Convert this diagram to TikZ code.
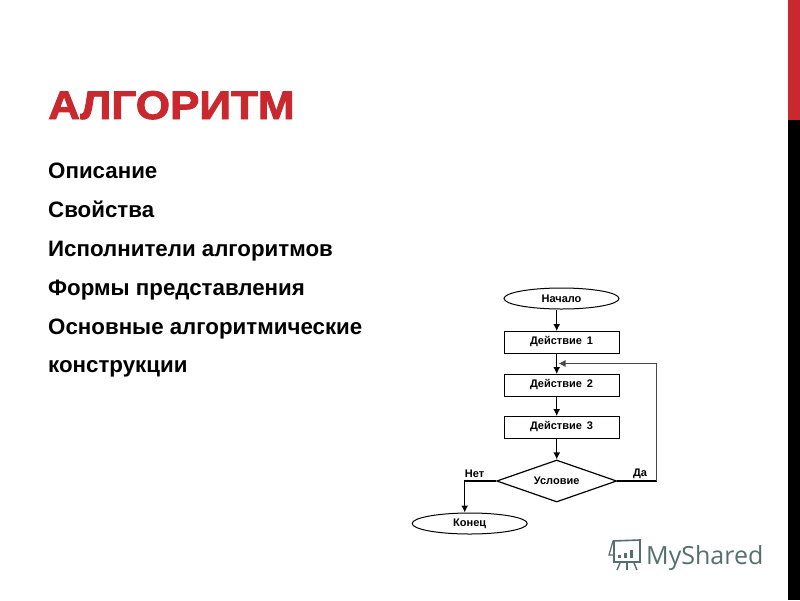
\documentclass[tikz,border=0pt]{standalone}
\usepackage{fontspec}
\usepackage{tikz}
\usetikzlibrary{shapes.geometric,arrows.meta}
\setmainfont{Liberation Sans}
\newfontfamily\markfont{Open Sans}
\newfontfamily\titlefont[FakeBold=2.2]{Liberation Sans Bold}
\definecolor{titlered}{HTML}{C8282E}
\definecolor{markgreen}{HTML}{55706A}
\definecolor{loopgray}{HTML}{4A4A4A}
\tikzset{
  titletext/.style={anchor=base west, inner sep=0pt, font=\titlefont\fontsize{40}{40}\selectfont, text=titlered},
  listitem/.style={anchor=base west, inner sep=0pt, font=\bfseries\fontsize{22.3}{22.3}\selectfont, text=black},
  actbox/.style={draw, line width=1pt, minimum width=115pt, minimum height=22pt, inner sep=0pt, text height=8pt, text depth=4pt, font=\bfseries\fontsize{11}{11}\selectfont},
  termnode/.style={draw, ellipse, line width=1pt, minimum width=115pt, minimum height=21pt, inner sep=0pt, font=\bfseries\fontsize{11}{11}\selectfont},
  condnode/.style={draw, diamond, aspect=2.88, line width=1.2pt, minimum width=120pt, minimum height=42pt, inner sep=0pt, font=\bfseries\fontsize{11}{11}\selectfont},
  flowlabel/.style={inner sep=0pt, font=\bfseries\fontsize{11}{11}\selectfont},
  arrowline/.style={draw, line width=1.2pt, -{Latex[length=7pt,width=7pt]}},
  loopline/.style={draw=loopgray, line width=.8pt, -{Latex[length=7pt,width=7pt]}},
}
\begin{document}
\begin{tikzpicture}[x=1pt,y=-1pt]
\useasboundingbox (0,0) rectangle (800,600);
\fill[white] (0,0) rectangle (800,600);
% bar on the right
\fill[titlered] (788,0) rectangle (800,120);
\fill[black] (788,120) rectangle (800,600);
% text
\node[titletext, xscale=1.10] (title) at (48,119) {АЛГОРИТМ};
\node[listitem] (item1) at (48,178.5) {Описание};
\node[listitem] (item2) at (48,217.5) {Свойства};
\node[listitem] (item3) at (48,256.5) {Исполнители алгоритмов};
\node[listitem] (item4) at (48,295.5) {Формы представления};
\node[listitem] (item5) at (48,334.5) {Основные алгоритмические};
\node[listitem] (item6) at (48,372.5) {конструкции};
% flowchart
\node[termnode] (start) at (561.5,298.5) {Начало};
\node[actbox] (act1) at (561.5,342.5) {Действие\, 1};
\node[actbox] (act2) at (561.5,385.5) {Действие\, 2};
\node[actbox] (act3) at (561.5,427.5) {Действие\, 3};
\node[condnode] (cond) at (556.7,481) {Условие};
\node[termnode] (finish) at (469.7,523.5) {Конец};
\node[flowlabel] (no) at (474.5,473.5) {Нет};
\node[flowlabel] (yes) at (640,473.5) {Да};
\coordinate (loopin) at (558.5,363.5);
\coordinate (loopcorner) at (656.5,481);
\coordinate (nocorner) at (464.7,481);
\draw[arrowline] (start.south -| cond.north) -- (act1.north -| cond.north);
\draw[arrowline] (act1.south -| cond.north) -- (act2.north -| cond.north);
\draw[arrowline] (act2.south -| cond.north) -- (act3.north -| cond.north);
\draw[arrowline] (act3.south -| cond.north) -- (cond.north);
\draw[arrowline] (cond.west) -- (nocorner) -- (nocorner |- finish.north);
\draw[line width=1.2pt] (cond.east) -- (loopcorner);
\draw[loopline] (loopcorner) |- (loopin);
% logo
\node[anchor=base west, inner sep=0pt, text=markgreen, font=\markfont\fontsize{25}{25}\selectfont] (logo) at (646,564) {MyShared};
\begin{scope}[markgreen]
\draw[line width=1.6pt] (613,541) -- (640,540) -- (640,562) -- (614,562) -- (614,541);
\draw[line width=1.2pt] (613,541) -- (609,555) -- (614,555);
\fill (618,555) rectangle (621,558);
\fill (624,553) rectangle (627,558);
\fill (630,550) rectangle (633,558);
\draw[line width=1.4pt] (620,563) -- (617,570);
\draw[line width=1.4pt] (627,563) -- (627,570);
\draw[line width=1.4pt] (634,563) -- (637,570);
\end{scope}
\end{tikzpicture}
\end{document}
